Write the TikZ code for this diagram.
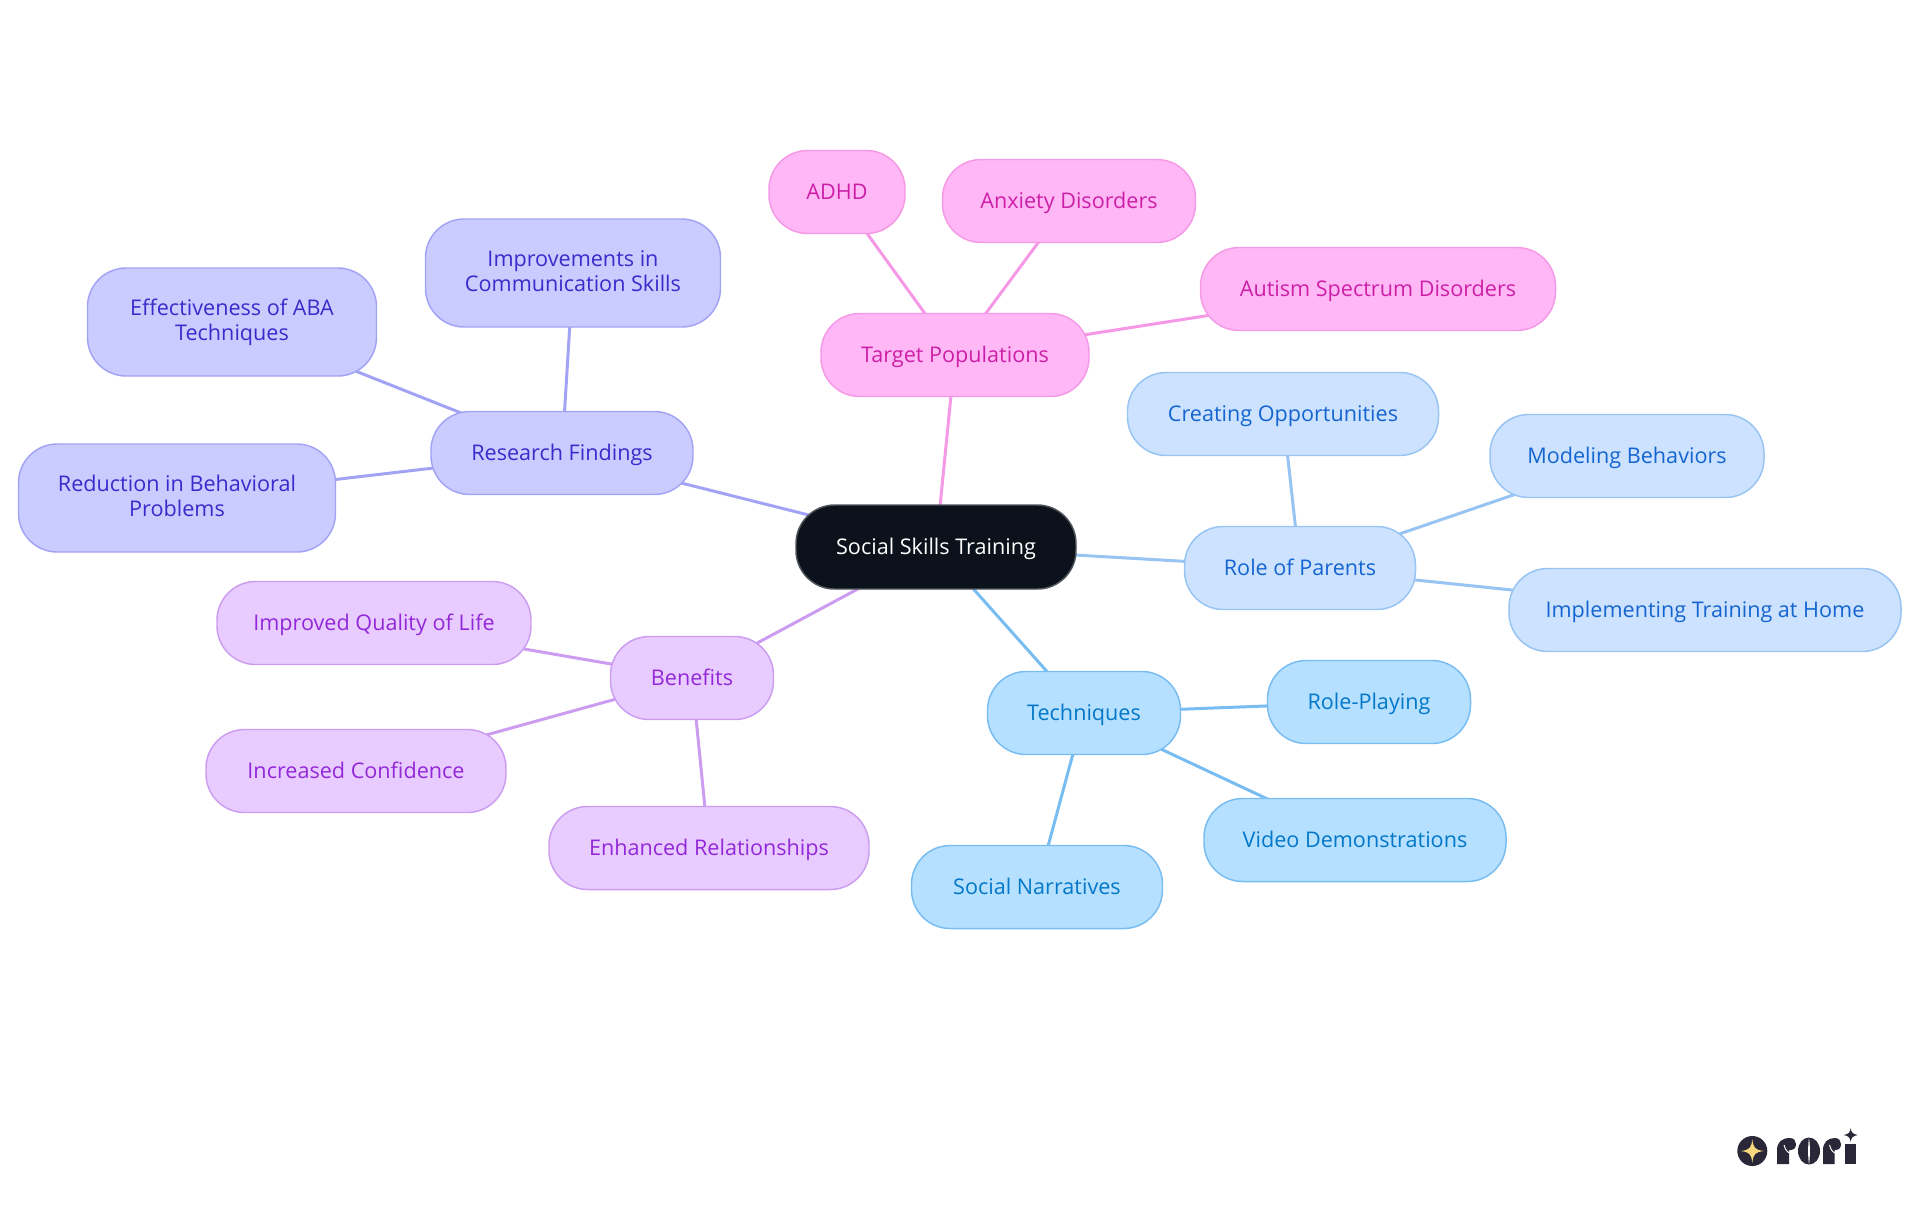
\documentclass[tikz,border=0pt]{standalone}
\usepackage{fontspec}
\setmainfont{Open Sans}
\usetikzlibrary{backgrounds}
\definecolor{rootfill}{HTML}{0B121B}
\definecolor{rootline}{HTML}{50555C}
\definecolor{resfill}{HTML}{CACBFF}\definecolor{resline}{HTML}{A3A3F5}\definecolor{restext}{HTML}{3A2BCB}
\definecolor{benfill}{HTML}{E8CCFF}\definecolor{benline}{HTML}{CC9CF0}\definecolor{bentext}{HTML}{9328D8}
\definecolor{tarfill}{HTML}{FFB8F5}\definecolor{tarline}{HTML}{F598E6}\definecolor{tartext}{HTML}{CC1FA8}
\definecolor{parfill}{HTML}{CCE2FF}\definecolor{parline}{HTML}{97C4F2}\definecolor{partext}{HTML}{1565D0}
\definecolor{tecfill}{HTML}{B5E0FF}\definecolor{tecline}{HTML}{78BDF2}\definecolor{tectext}{HTML}{0477C8}
\definecolor{logodark}{HTML}{2A2838}
\definecolor{logostar}{HTML}{FBD77E}
\tikzset{
  x=0.75pt,y=-0.75pt,
  pill/.style={draw,line width=1.1pt,rounded corners=29pt,inner sep=0pt,align=center,
    font=\fontsize{16.2}{18.75}\selectfont,
    execute at begin node={\rule{0pt}{14.6pt}},
    execute at end node={\rule[-3pt]{0pt}{3pt}}},
  rootpill/.style={pill,fill=rootfill,draw=rootline,text=white},
  respill/.style={pill,fill=resfill,draw=resline,text=restext},
  benpill/.style={pill,fill=benfill,draw=benline,text=bentext},
  tarpill/.style={pill,fill=tarfill,draw=tarline,text=tartext},
  parpill/.style={pill,fill=parfill,draw=parline,text=partext},
  tecpill/.style={pill,fill=tecfill,draw=tecline,text=tectext},
  edge/.style={line width=2.25pt},
  sz/.style 2 args={minimum width=#1*0.75pt,minimum height=#2*0.75pt},
}
\begin{document}
\begin{tikzpicture}
\useasboundingbox (0,0) rectangle (1920,1215);
\node[rootpill,sz={280}{84}] (root) at (936,547) {Social Skills Training};
\node[tarpill,sz={268}{83}] (target) at (955,355) {Target Populations};
\node[tarpill,sz={136}{83}] (adhd) at (837,192) {ADHD};
\node[tarpill,sz={253}{83}] (anx) at (1069,201) {Anxiety Disorders};
\node[tarpill,sz={355}{83}] (aut) at (1378,289) {Autism Spectrum Disorders};
\node[parpill,sz={231}{83}] (par) at (1300,568) {Role of Parents};
\node[parpill,sz={311}{83}] (cre) at (1283,414) {Creating Opportunities};
\node[parpill,sz={274}{83}] (mod) at (1627,456) {Modeling Behaviors};
\node[parpill,sz={392}{83}] (imp) at (1705,610) {Implementing Training at Home};
\node[tecpill,sz={193}{83}] (tec) at (1084,713) {Techniques};
\node[tecpill,sz={203}{83}] (rol) at (1369,702) {Role-Playing};
\node[tecpill,sz={302}{83}] (vid) at (1355,840) {Video Demonstrations};
\node[tecpill,sz={251}{83}] (soc) at (1037,887) {Social Narratives};
\node[benpill,sz={163}{83}] (ben) at (692,678) {Benefits};
\node[benpill,sz={314}{83}] (qol) at (374,623) {Improved Quality of Life};
\node[benpill,sz={300}{83}] (con) at (356,771) {Increased Confidence};
\node[benpill,sz={320}{83}] (rel) at (709,848) {Enhanced Relationships};
\node[respill,sz={262}{83}] (res) at (562,453) {Research Findings};
\node[respill,sz={289}{108}] (aba) at (232,322) {Effectiveness of ABA\\Techniques};
\node[respill,sz={295}{108}] (com) at (573,273) {Improvements in\\Communication Skills};
\node[respill,sz={317}{108}] (red) at (177,498) {Reduction in Behavioral\\Problems};
\begin{scope}[on background layer]
\draw[edge,tarline] (root.center) -- (target.center);
\draw[edge,tarline] (target.center) -- (adhd.center);
\draw[edge,tarline] (target.center) -- (anx.center);
\draw[edge,tarline] (target.center) -- (aut.center);
\draw[edge,parline] (root.center) -- (par.center);
\draw[edge,parline] (par.center) -- (cre.center);
\draw[edge,parline] (par.center) -- (mod.center);
\draw[edge,parline] (par.center) -- (imp.center);
\draw[edge,tecline] (root.center) -- (tec.center);
\draw[edge,tecline] (tec.center) -- (rol.center);
\draw[edge,tecline] (tec.center) -- (vid.center);
\draw[edge,tecline] (tec.center) -- (soc.center);
\draw[edge,benline] (root.center) -- (ben.center);
\draw[edge,benline] (ben.center) -- (qol.center);
\draw[edge,benline] (ben.center) -- (con.center);
\draw[edge,benline] (ben.center) -- (rel.center);
\draw[edge,resline] (root.center) -- (res.center);
\draw[edge,resline] (res.center) -- (aba.center);
\draw[edge,resline] (res.center) -- (com.center);
\draw[edge,resline] (res.center) -- (red.center);
\end{scope}
% logo
\fill[logodark] (1752.3,1151) circle (15);
\fill[logostar] (1752.3,1139) .. controls (1753.3,1148) and (1755,1150) .. (1764,1151)
  .. controls (1755,1152) and (1753.3,1154) .. (1752.3,1163)
  .. controls (1751.3,1154) and (1749.6,1152) .. (1740.6,1151)
  .. controls (1749.6,1150) and (1751.3,1148) .. (1752.3,1139) -- cycle;
% r
\fill[logodark] (1777,1164) -- (1777,1150) .. controls (1777,1142) and (1782,1138) .. (1790,1138)
  .. controls (1794,1138) and (1796,1141) .. (1796,1144)
  .. controls (1796,1147.5) and (1794,1150) .. (1790.5,1150)
  -- (1789,1150) -- (1789,1164) -- cycle;
\draw[white,line width=0.7pt] (1784,1145) .. controls (1785,1149) and (1787,1152) .. (1789.5,1153);
% o
\fill[logodark] (1809,1151) ellipse (11 and 13.5);
\fill[white] (1809,1138) .. controls (1810.2,1146) and (1810.2,1156) .. (1809,1164.5)
  .. controls (1807.8,1156) and (1807.8,1146) .. (1809,1138) -- cycle;
% r
\fill[logodark] (1823,1164) -- (1823,1150) .. controls (1823,1142) and (1828,1138) .. (1835,1138)
  .. controls (1839,1138) and (1841,1141) .. (1841,1144)
  .. controls (1841,1147.5) and (1839,1150) .. (1835.5,1150)
  -- (1834.5,1150) -- (1834.5,1164) -- cycle;
\draw[white,line width=0.7pt] (1829.5,1145) .. controls (1830.5,1149) and (1832.5,1152) .. (1835,1153);
% i
\fill[logodark] (1845,1144) -- (1856,1144) -- (1856,1164) -- (1845,1164) -- cycle;
\fill[logodark] (1850.7,1128) .. controls (1851.2,1132.5) and (1852.7,1134) .. (1857.7,1135)
  .. controls (1852.7,1136) and (1851.2,1137.5) .. (1850.7,1142)
  .. controls (1850.2,1137.5) and (1848.7,1136) .. (1843.7,1135)
  .. controls (1848.7,1134) and (1850.2,1132.5) .. (1850.7,1128) -- cycle;
\end{tikzpicture}
\end{document}
